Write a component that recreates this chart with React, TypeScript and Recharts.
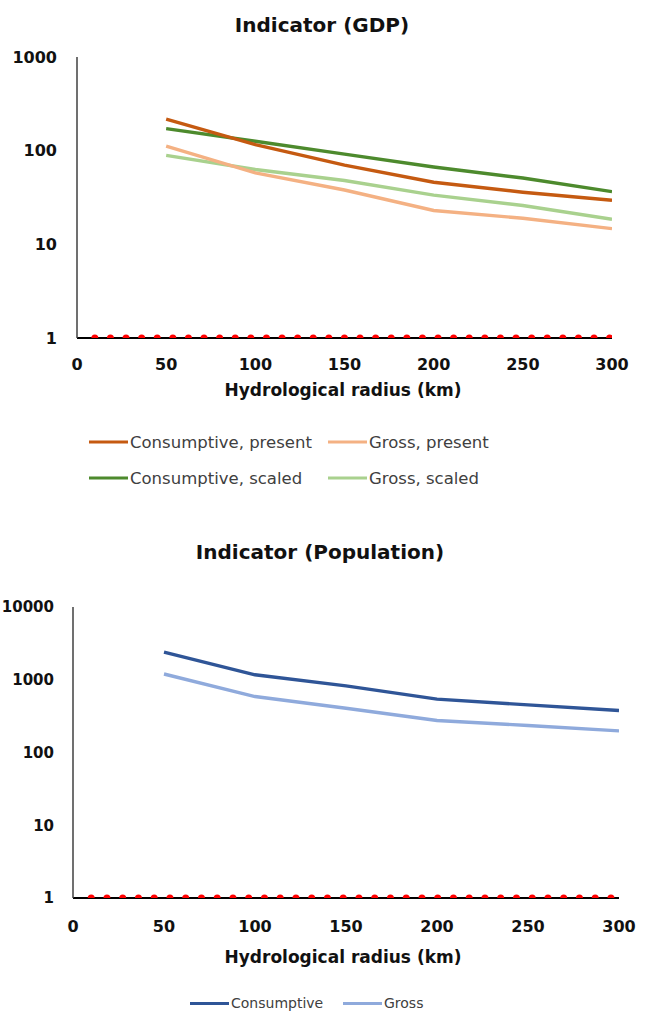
import React from "react";
import { LineChart, Line, XAxis, YAxis } from "recharts";

// ---- data ----
const radius = [50, 100, 150, 200, 250, 300];
const consPresent = [217, 116, 70, 46, 36, 29.5];
const grossPresent = [112, 58, 38, 23, 19, 14.7];
const consScaled = [172, 126, 92, 67, 51, 36.5];
const grossScaled = [89, 63, 48, 33.5, 26, 18.5];

const popConsumptive = [2400, 1170, 825, 541, 452, 378];
const popGross = [1200, 588, 406, 275, 235, 198];

const thresholdX = [10, 300];
const thresholdValue = [1, 1];

const xTicks = [0, 50, 100, 150, 200, 250, 300];
const gdpTicks = [1, 10, 100, 1000];
const popTicks = [1, 10, 100, 1000, 10000];

const gdpRows = radius.map((x, i) => ({
  x,
  consPresent: consPresent[i],
  grossPresent: grossPresent[i],
  consScaled: consScaled[i],
  grossScaled: grossScaled[i],
}));
const popRows = radius.map((x, i) => ({
  x,
  consumptive: popConsumptive[i],
  gross: popGross[i],
}));
const thresholdRows = thresholdX.map((x, i) => ({ x, t: thresholdValue[i] }));

const C = {
  consPresent: "#C55A11",
  grossPresent: "#F4B183",
  consScaled: "#4D8A2D",
  grossScaled: "#A9D18E",
  popCons: "#2F5597",
  popGross: "#8FAADC",
  red: "#FF0000",
};

const FONT = "'DejaVu Sans', sans-serif";
const tickStyle = { fontSize: 16, fontWeight: 700, fill: "#111", fontFamily: FONT };
const popTickStyle = { fontSize: 15, fontWeight: 700, fill: "#111", fontFamily: FONT };

function Centered({ x, y, children, style }: any) {
  return (
    <div
      style={{
        position: "absolute",
        left: x,
        top: y,
        transform: "translate(-50%, -50%)",
        whiteSpace: "nowrap",
        fontFamily: FONT,
        ...style,
      }}
    >
      {children}
    </div>
  );
}

function LegendItem({ x, y, color, label, size = 16.5 }: any) {
  return (
    <div
      style={{
        position: "absolute",
        left: x,
        top: y,
        transform: "translateY(-50%)",
        display: "flex",
        alignItems: "center",
        whiteSpace: "nowrap",
        fontFamily: FONT,
        fontSize: size,
        lineHeight: `${Math.round(size)}px`,
        color: "#404040",
      }}
    >
      <span style={{ display: "inline-block", width: 39, height: 3, background: color, marginRight: 2 }} />
      <span>{label}</span>
    </div>
  );
}

// red dotted threshold drawn in an overlay chart so it sits above the axis line
function ThresholdOverlay({ top, left, right, bottom, yMax, gap }: any) {
  return (
    <div style={{ position: "absolute", left: 0, top, pointerEvents: "none" }}>
      <LineChart width={645} height={400} data={thresholdRows} margin={{ top: 57, right, bottom, left }}>
        <XAxis type="number" dataKey="x" domain={[0, 300]} hide allowDataOverflow />
        <YAxis type="number" scale="log" domain={[1, yMax]} hide allowDataOverflow />
        <Line
          dataKey="t"
          stroke={C.red}
          strokeWidth={7}
          strokeDasharray={`0 ${gap}`}
          strokeLinecap="round"
          dot={false}
          isAnimationActive={false}
        />
      </LineChart>
    </div>
  );
}

export default function App() {
  return (
    <div
      style={{
        position: "absolute",
        left: 0,
        top: 0,
        width: 645,
        height: 1012,
        background: "#fff",
        overflow: "hidden",
      }}
    >
      <Centered x={322} y={25} style={{ fontSize: 20, fontWeight: 700, color: "#111" }}>
        Indicator (GDP)
      </Centered>
      <div style={{ position: "absolute", left: 0, top: 0 }}>
        <LineChart width={645} height={400} data={gdpRows} margin={{ top: 57, right: 33, bottom: 22, left: 0 }}>
          <XAxis
            type="number"
            dataKey="x"
            domain={[0, 300]}
            ticks={xTicks}
            tickSize={0}
            tickMargin={21}
            height={40}
            axisLine={{ stroke: "#000", strokeWidth: 2 }}
            tick={tickStyle}
            allowDataOverflow
          />
          <YAxis
            type="number"
            scale="log"
            domain={[1, 1000]}
            ticks={gdpTicks}
            width={77}
            tickSize={0}
            tickMargin={20}
            axisLine={{ stroke: "#404040", strokeWidth: 1.5 }}
            tick={tickStyle}
            allowDataOverflow
          />
          <Line dataKey="grossScaled" stroke={C.grossScaled} strokeWidth={3.4} dot={false} isAnimationActive={false} />
          <Line dataKey="grossPresent" stroke={C.grossPresent} strokeWidth={3.4} dot={false} isAnimationActive={false} />
          <Line dataKey="consScaled" stroke={C.consScaled} strokeWidth={3.4} dot={false} isAnimationActive={false} />
          <Line dataKey="consPresent" stroke={C.consPresent} strokeWidth={3.4} dot={false} isAnimationActive={false} />
        </LineChart>
      </div>
      <ThresholdOverlay top={0} left={77} right={33} bottom={62} yMax={1000} gap={15.6} />
      <Centered x={343} y={390} style={{ fontSize: 17, fontWeight: 700, color: "#111" }}>
        Hydrological radius (km)
      </Centered>
      <LegendItem x={89} y={442} color={C.consPresent} label="Consumptive, present" />
      <LegendItem x={328} y={442} color={C.grossPresent} label="Gross, present" />
      <LegendItem x={89} y={478} color={C.consScaled} label="Consumptive, scaled" />
      <LegendItem x={328} y={478} color={C.grossScaled} label="Gross, scaled" />

      <Centered x={320} y={552} style={{ fontSize: 20, fontWeight: 700, color: "#111" }}>
        Indicator (Population)
      </Centered>
      <div style={{ position: "absolute", left: 0, top: 550 }}>
        <LineChart width={645} height={400} data={popRows} margin={{ top: 57, right: 26, bottom: 12, left: 0 }}>
          <XAxis
            type="number"
            dataKey="x"
            domain={[0, 300]}
            ticks={xTicks}
            tickSize={0}
            tickMargin={23}
            height={40}
            axisLine={{ stroke: "#000", strokeWidth: 2 }}
            tick={tickStyle}
            allowDataOverflow
          />
          <YAxis
            type="number"
            scale="log"
            domain={[1, 10000]}
            ticks={popTicks}
            width={73}
            tickSize={0}
            tickMargin={19}
            axisLine={{ stroke: "#404040", strokeWidth: 1.5 }}
            tick={popTickStyle}
            allowDataOverflow
          />
          <Line dataKey="gross" stroke={C.popGross} strokeWidth={3.4} dot={false} isAnimationActive={false} />
          <Line dataKey="consumptive" stroke={C.popCons} strokeWidth={3.4} dot={false} isAnimationActive={false} />
        </LineChart>
      </div>
      <ThresholdOverlay top={550} left={73} right={26} bottom={52} yMax={10000} gap={15.75} />
      <Centered x={343} y={957} style={{ fontSize: 17, fontWeight: 700, color: "#111" }}>
        Hydrological radius (km)
      </Centered>
      <LegendItem x={190} y={1003} color={C.popCons} label="Consumptive" size={14} />
      <LegendItem x={343} y={1003} color={C.popGross} label="Gross" size={14} />
    </div>
  );
}
